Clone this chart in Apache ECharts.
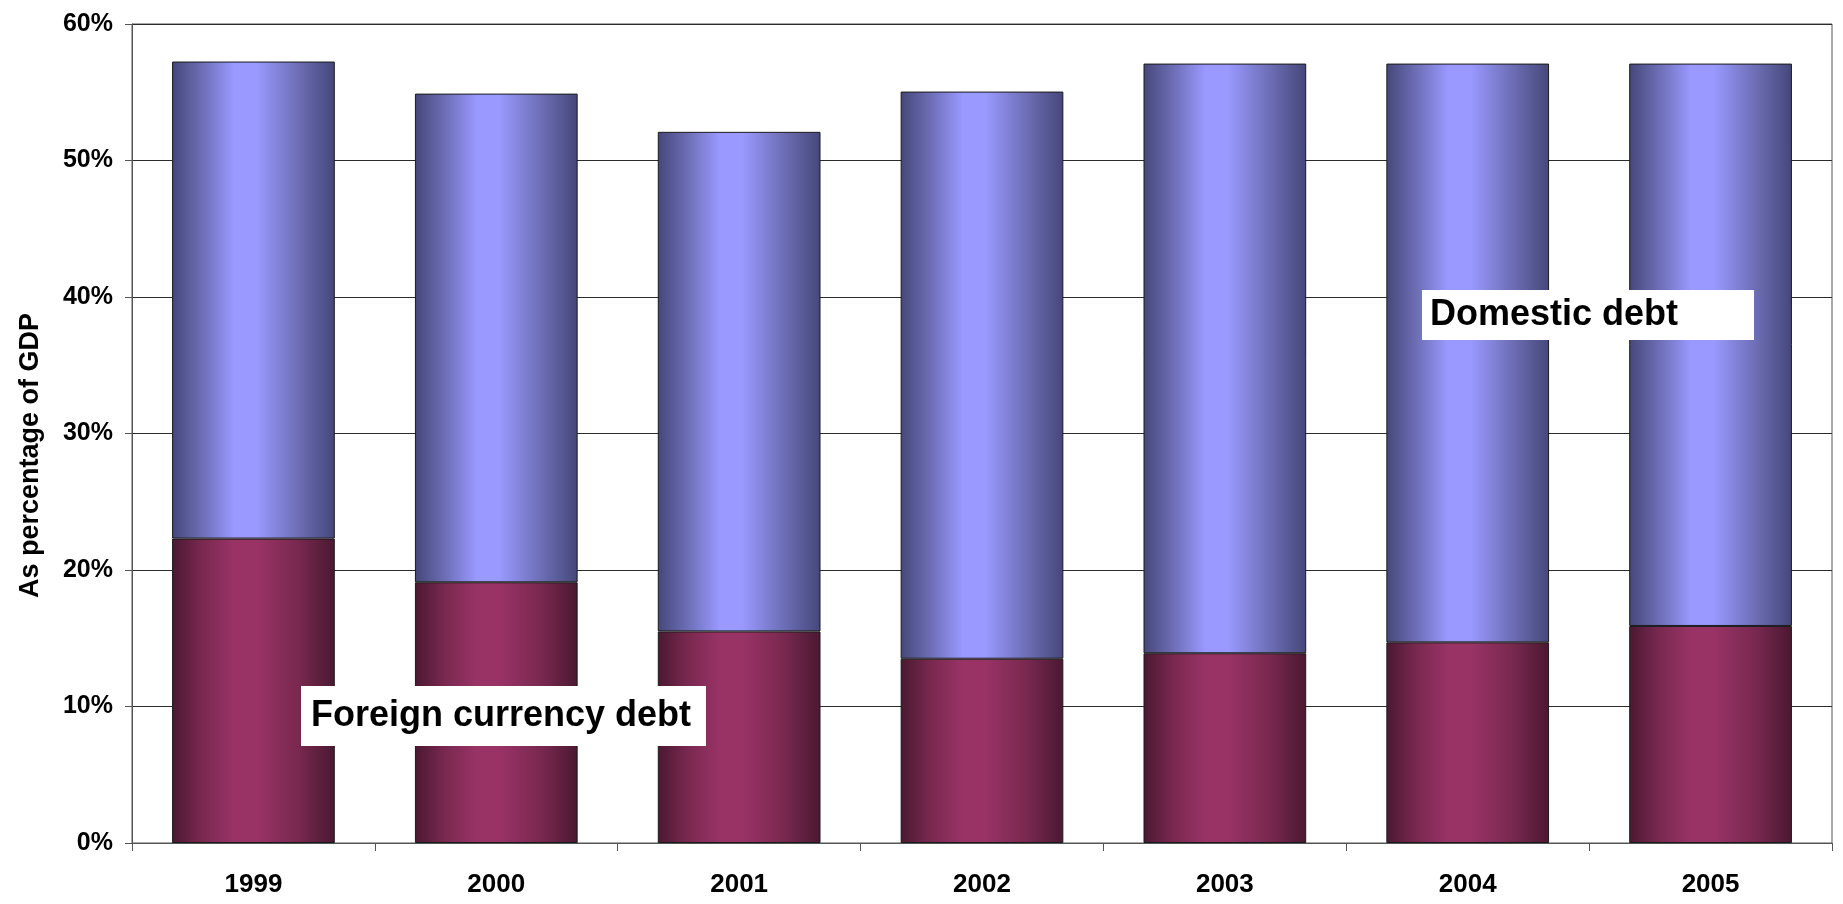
<!DOCTYPE html>
<html>
<head>
<meta charset="utf-8">
<title>Public debt as percentage of GDP</title>
<script src="https://cdn.jsdelivr.net/npm/echarts@6/dist/echarts.min.js"></script>
<style>
  html, body { margin: 0; padding: 0; background: #ffffff; }
  #chart { width: 1843px; height: 904px; }
</style>
</head>
<body>
<div id="chart"></div>
<script>
// Debt stock by currency, in percent of GDP
const years = ['1999', '2000', '2001', '2002', '2003', '2004', '2005'];
const foreignDebt = [22.3, 19.1, 15.5, 13.5, 13.9, 14.7, 15.9];
const domesticDebt = [34.95, 35.8, 36.6, 41.55, 43.2, 42.4, 41.2];
const yTicks = { min: 0, max: 60, interval: 10 };

const FONT = '"Liberation Sans", Arial, sans-serif';

// horizontal shading across each column: dark edges, light centre
function columnShade(edge, mid, light) {
  return new echarts.graphic.LinearGradient(0, 0, 1, 0, [
    { offset: 0, color: edge },
    { offset: 0.18, color: mid },
    { offset: 0.38, color: light },
    { offset: 0.52, color: light },
    { offset: 0.78, color: mid },
    { offset: 1, color: edge }
  ]);
}

const chart = echarts.init(document.getElementById('chart'), null, { renderer: 'canvas' });

// white boxed caption laid over the columns
function labelBox(x, y, w, h, text, padLeft) {
  return {
    type: 'group',
    x: x,
    y: y,
    z: 100,
    children: [
      {
        type: 'rect',
        z: 100,
        shape: { x: 0, y: 0, width: w, height: h },
        style: { fill: '#ffffff' }
      },
      {
        type: 'text',
        z: 101,
        x: padLeft,
        y: h / 2,
        style: {
          text: text,
          font: 'bold 36px ' + FONT,
          fill: '#000000',
          verticalAlign: 'middle'
        }
      }
    ]
  };
}

chart.setOption({
  backgroundColor: '#ffffff',
  animation: false,
  grid: {
    left: 132, right: 11, top: 24, bottom: 61,
    show: true,
    borderColor: '#555555',
    borderWidth: 1
  },
  xAxis: {
    type: 'category',
    data: years,
    axisLine: { lineStyle: { color: '#555555', width: 1 } },
    axisTick: { show: true, length: 8, lineStyle: { color: '#555555' } },
    axisLabel: {
      margin: 29,
      fontFamily: FONT,
      fontWeight: 'bold',
      fontSize: 26,
      color: '#000000'
    }
  },
  yAxis: {
    type: 'value',
    min: yTicks.min,
    max: yTicks.max,
    interval: yTicks.interval,
    name: 'As percentage of GDP',
    nameLocation: 'middle',
    nameGap: 88,
    nameTextStyle: {
      fontFamily: FONT,
      fontWeight: 'bold',
      fontSize: 27,
      color: '#000000',
      // nudges the title a little below the axis midpoint
      padding: [0, 44, 0, 0]
    },
    axisLine: { show: true, lineStyle: { color: '#555555', width: 1 } },
    axisTick: { show: true, length: 7, lineStyle: { color: '#555555' } },
    axisLabel: {
      margin: 19,
      formatter: '{value}%',
      fontFamily: FONT,
      fontWeight: 'bold',
      fontSize: 25,
      color: '#000000'
    },
    splitLine: { show: true, lineStyle: { color: '#2b2b2b', width: 1 } }
  },
  series: [
    {
      name: 'Foreign currency debt',
      type: 'bar',
      stack: 'debt',
      data: foreignDebt,
      barCategoryGap: '33%',
      itemStyle: {
        color: columnShade('#4a1831', '#78284f', '#993366'),
        borderColor: '#1a1a1a',
        borderWidth: 1
      }
    },
    {
      name: 'Domestic debt',
      type: 'bar',
      stack: 'debt',
      data: domesticDebt,
      barCategoryGap: '33%',
      itemStyle: {
        color: columnShade('#45477a', '#6c6db4', '#9999ff'),
        borderColor: '#1a1a1a',
        borderWidth: 1
      }
    }
  ],
  graphic: [
    labelBox(301, 686, 405, 60, 'Foreign currency debt', 10),
    labelBox(1422, 290, 332, 50, 'Domestic debt', 8)
  ]
});
</script>
</body>
</html>
